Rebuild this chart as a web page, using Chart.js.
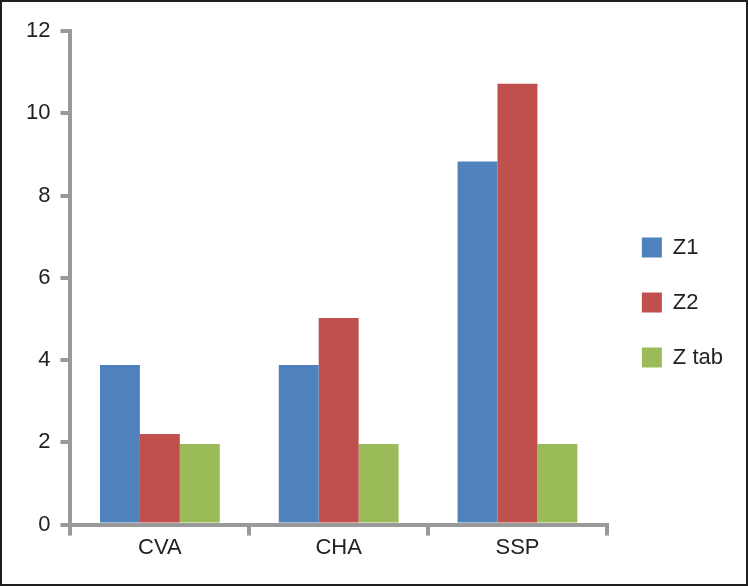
<!DOCTYPE html>
<html lang="en">
<head>
	<meta charset="utf-8">
	<title>Z values</title>
	<style>
body {
	margin: 0;
	background: #fff;
}
#chartWrapper {
	position: absolute;
	left: 0;
	top: 0;
	width: 748px;
	height: 586px;
	border: 2px solid #1f1f1f;
	box-sizing: border-box;
}
	</style>
</head>
<body>

<div id="chartWrapper">
  <canvas id="myChart"></canvas>
</div>

<script src="https://cdn.jsdelivr.net/npm/chart.js"></script>
<script>
const categories = ['CVA', 'CHA', 'SSP'];
const seriesNames = ['Z1', 'Z2', 'Z tab'];
const z1 = [3.88, 3.88, 8.83];
const z2 = [2.2, 5.02, 10.72];
const zTab = [1.96, 1.96, 1.96];
const yTicks = [0, 2, 4, 6, 8, 10, 12];

const colors = ['#4f81bd', '#c0504d', '#9bbb59'];
const axisGray = '#999999';

document.addEventListener('DOMContentLoaded', init, false);

// small shift of the legend block so it sits where the original one does
const legendNudge = {
	id: 'legendNudge',
	afterLayout(chart) {
		let lg = chart.legend;
		if (!lg) return;
		lg.left += 2; lg.right += 2;
		lg.top += 7; lg.bottom += 7;
	}
};

function init() {
	const ctx = document.getElementById('myChart');

	let datasets = [z1, z2, zTab].map((vals, i) => {
		return {
			label: seriesNames[i],
			data: vals,
			backgroundColor: colors[i],
			borderWidth: 0,
			categoryPercentage: 0.67,
			barPercentage: 1.0
		};
	});

	Chart.defaults.font.family = "'Liberation Sans', Arial, sans-serif";
	Chart.defaults.color = '#222';

	new Chart(ctx, {
		type: 'bar',
		data: {
			labels: categories,
			datasets: datasets
		},
		plugins: [legendNudge],
		options: {
			responsive: true,
			maintainAspectRatio: false,
			animation: false,
			layout: {
				padding: { left: 14, top: 29, right: 15, bottom: 24 }
			},
			scales: {
				x: {
					grid: {
						offset: true,
						drawOnChartArea: false,
						color: axisGray,
						lineWidth: 4,
						tickLength: 11
					},
					border: { color: axisGray, width: 4 },
					ticks: { font: { size: 22 }, padding: -1 }
				},
				y: {
					min: 0,
					max: 12,
					afterBuildTicks: axis => {
						axis.ticks = yTicks.map(v => ({ value: v }));
					},
					grid: {
						drawOnChartArea: false,
						color: axisGray,
						lineWidth: 4,
						tickLength: 10
					},
					border: { color: axisGray, width: 4 },
					ticks: { font: { size: 22 }, padding: 10 }
				}
			},
			plugins: {
				legend: {
					position: 'right',
					labels: {
						boxWidth: 20,
						boxHeight: 20,
						padding: 33,
						font: { size: 22 }
					}
				},
				tooltip: { enabled: false }
			}
		}
	});
}
</script>
</body>
</html>
